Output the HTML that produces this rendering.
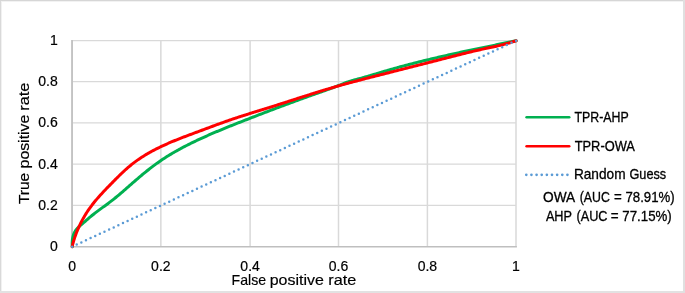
<!DOCTYPE html>
<html><head><meta charset="utf-8"><style>
html,body{margin:0;padding:0;background:#fff;overflow:hidden}
svg{display:block;will-change:transform}
text{font-family:"Liberation Sans",sans-serif;fill:#000;stroke:#000;stroke-width:0.3px}
.ti{stroke-width:0.18px}
.tk{stroke-width:0.2px}
</style></head><body>
<svg width="685" height="293" viewBox="0 0 685 293">
<rect x="0" y="0" width="685" height="293" fill="#fff"/>
<rect x="0" y="0" width="683" height="1" fill="#d6d6d6"/>
<rect x="1" y="1" width="682" height="1" fill="#f2f2f2"/>
<rect x="0" y="1" width="1" height="290" fill="#d9d9d9"/>
<rect x="1" y="2" width="1" height="289" fill="#f1f1f1"/>
<rect x="683" y="0" width="2" height="293" fill="#e0e0e0"/>
<rect x="0" y="291" width="683" height="2" fill="#e2e2e2"/>
<line x1="160.85" y1="40" x2="160.85" y2="246.4" stroke="#d9d9d9" stroke-width="1.5"/><line x1="250.1" y1="40" x2="250.1" y2="246.4" stroke="#d9d9d9" stroke-width="1.5"/><line x1="338.5" y1="40" x2="338.5" y2="246.4" stroke="#d9d9d9" stroke-width="1.5"/><line x1="427.4" y1="40" x2="427.4" y2="246.4" stroke="#d9d9d9" stroke-width="1.5"/><line x1="516.0" y1="40" x2="516.0" y2="246.4" stroke="#d9d9d9" stroke-width="1.5"/><line x1="72.2" y1="40.55" x2="516.0" y2="40.55" stroke="#d9d9d9" stroke-width="1.2"/><line x1="72.2" y1="81.7" x2="516.0" y2="81.7" stroke="#d9d9d9" stroke-width="1.2"/><line x1="72.2" y1="122.85" x2="516.0" y2="122.85" stroke="#d9d9d9" stroke-width="1.2"/><line x1="72.2" y1="164.15" x2="516.0" y2="164.15" stroke="#d9d9d9" stroke-width="1.2"/><line x1="72.2" y1="205.3" x2="516.0" y2="205.3" stroke="#d9d9d9" stroke-width="1.2"/><rect x="71.1" y="40" width="1.9" height="206.5" fill="#c3c3c3"/><line x1="71.1" y1="246.65" x2="516.9" y2="246.65" stroke="#bfbfbf" stroke-width="1.5"/>
<path d="M72.28 246.77 L72.20 245.44 L72.17 244.12 L72.18 242.81 L72.23 241.52 L72.34 240.24 L72.50 238.98 L72.71 237.74 L72.98 236.53 L73.32 235.35 L73.72 234.20 L74.19 233.08 L74.73 232.00 L75.35 230.96 L76.04 229.97 L76.81 229.01 L77.63 228.09 L78.51 227.20 L79.44 226.33 L80.39 225.48 L81.36 224.64 L82.34 223.81 L83.32 222.98 L84.29 222.14 L85.24 221.29 L86.19 220.44 L87.13 219.60 L88.08 218.76 L89.03 217.94 L90.00 217.12 L90.97 216.32 L91.95 215.52 L92.94 214.73 L93.93 213.95 L94.93 213.18 L95.93 212.41 L96.94 211.65 L97.95 210.90 L98.97 210.15 L99.98 209.40 L101.00 208.65 L102.02 207.91 L103.04 207.16 L104.06 206.42 L105.09 205.67 L106.10 204.93 L107.12 204.18 L108.14 203.43 L109.15 202.67 L110.16 201.91 L111.16 201.15 L112.16 200.38 L113.15 199.60 L114.14 198.82 L115.12 198.02 L116.10 197.23 L117.08 196.43 L118.05 195.62 L119.01 194.81 L119.98 194.00 L120.94 193.18 L121.90 192.36 L122.85 191.53 L123.81 190.70 L124.76 189.88 L125.71 189.04 L126.66 188.21 L127.61 187.38 L128.56 186.55 L129.50 185.71 L130.45 184.88 L131.40 184.05 L132.35 183.22 L133.30 182.39 L134.25 181.56 L135.21 180.74 L136.16 179.91 L137.12 179.09 L138.08 178.27 L139.04 177.45 L140.00 176.64 L140.97 175.83 L141.93 175.02 L142.90 174.21 L143.88 173.41 L144.85 172.61 L145.83 171.82 L146.81 171.03 L147.79 170.24 L148.78 169.46 L149.77 168.69 L150.77 167.91 L151.77 167.15 L152.77 166.38 L153.78 165.63 L154.79 164.88 L155.80 164.13 L156.82 163.39 L157.85 162.66 L158.88 161.93 L159.91 161.21 L160.95 160.50 L161.99 159.79 L163.04 159.09 L164.10 158.39 L165.16 157.71 L166.22 157.03 L167.29 156.35 L168.37 155.69 L169.45 155.03 L170.53 154.37 L171.62 153.72 L172.71 153.08 L173.80 152.44 L174.90 151.81 L176.00 151.19 L177.11 150.57 L178.21 149.95 L179.32 149.34 L180.44 148.74 L181.55 148.14 L182.67 147.54 L183.80 146.95 L184.92 146.37 L186.04 145.79 L187.17 145.21 L188.30 144.64 L189.43 144.07 L190.57 143.51 L191.70 142.95 L192.84 142.39 L193.97 141.84 L195.11 141.29 L196.25 140.75 L197.39 140.21 L198.54 139.67 L199.68 139.14 L200.83 138.61 L201.98 138.08 L203.13 137.56 L204.28 137.04 L205.43 136.52 L206.58 136.01 L207.73 135.50 L208.89 134.99 L210.04 134.48 L211.20 133.98 L212.36 133.48 L213.52 132.98 L214.68 132.49 L215.84 131.99 L217.00 131.50 L218.17 131.01 L219.33 130.53 L220.50 130.04 L221.66 129.56 L222.83 129.08 L223.99 128.60 L225.16 128.12 L226.33 127.65 L227.50 127.18 L228.67 126.70 L229.84 126.23 L231.01 125.76 L232.18 125.29 L233.36 124.83 L234.53 124.36 L235.70 123.90 L236.88 123.43 L238.05 122.97 L239.23 122.51 L240.40 122.04 L241.58 121.58 L242.75 121.12 L243.93 120.66 L245.10 120.20 L246.28 119.74 L247.46 119.28 L248.63 118.82 L249.81 118.36 L250.99 117.91 L252.16 117.45 L253.34 116.99 L254.52 116.54 L255.70 116.08 L256.88 115.63 L258.06 115.17 L259.23 114.72 L260.41 114.26 L261.59 113.81 L262.77 113.36 L263.95 112.90 L265.13 112.45 L266.31 112.00 L267.50 111.55 L268.68 111.10 L269.86 110.65 L271.04 110.20 L272.22 109.76 L273.40 109.31 L274.59 108.86 L275.77 108.42 L276.95 107.97 L278.13 107.53 L279.32 107.08 L280.50 106.64 L281.69 106.19 L282.87 105.75 L284.05 105.31 L285.24 104.87 L286.42 104.43 L287.61 103.99 L288.79 103.55 L289.98 103.11 L291.17 102.67 L292.35 102.24 L293.54 101.80 L294.72 101.36 L295.91 100.93 L297.10 100.50 L298.29 100.06 L299.47 99.63 L300.66 99.20 L301.85 98.77 L303.04 98.34 L304.23 97.91 L305.41 97.48 L306.60 97.05 L307.79 96.62 L308.98 96.19 L310.17 95.77 L311.36 95.34 L312.55 94.92 L313.74 94.50 L314.93 94.07 L316.12 93.65 L317.32 93.23 L318.51 92.81 L319.70 92.39 L320.89 91.97 L322.08 91.55 L323.27 91.14 L324.47 90.72 L325.66 90.30 L326.85 89.88 L328.04 89.45 L329.23 89.03 L330.42 88.60 L331.60 88.17 L332.79 87.74 L333.97 87.30 L335.15 86.85 L336.33 86.41 L337.51 85.95 L338.69 85.49 L339.86 85.03 L341.03 84.55 L342.20 84.08 L343.38 83.61 L344.55 83.14 L345.73 82.69 L346.91 82.26 L348.10 81.84 L349.30 81.45 L350.50 81.08 L351.71 80.72 L352.92 80.37 L354.14 80.04 L355.36 79.71 L356.58 79.39 L357.80 79.07 L359.02 78.75 L360.24 78.42 L361.46 78.09 L362.67 77.75 L363.89 77.41 L365.10 77.06 L366.32 76.71 L367.53 76.36 L368.74 76.00 L369.95 75.64 L371.16 75.28 L372.37 74.92 L373.58 74.56 L374.79 74.19 L376.00 73.83 L377.21 73.46 L378.42 73.10 L379.62 72.73 L380.83 72.37 L382.04 72.01 L383.25 71.65 L384.47 71.29 L385.68 70.93 L386.89 70.58 L388.10 70.23 L389.32 69.88 L390.53 69.53 L391.74 69.19 L392.96 68.84 L394.17 68.50 L395.39 68.16 L396.61 67.82 L397.82 67.49 L399.04 67.15 L400.26 66.82 L401.48 66.49 L402.70 66.16 L403.92 65.83 L405.14 65.51 L406.36 65.18 L407.58 64.86 L408.80 64.54 L410.02 64.22 L411.25 63.91 L412.47 63.59 L413.69 63.28 L414.92 62.97 L416.14 62.66 L417.36 62.35 L418.59 62.04 L419.81 61.73 L421.04 61.43 L422.27 61.13 L423.49 60.82 L424.72 60.52 L425.95 60.23 L427.18 59.93 L428.40 59.63 L429.63 59.34 L430.86 59.04 L432.09 58.75 L433.32 58.46 L434.55 58.17 L435.78 57.88 L437.01 57.60 L438.24 57.31 L439.47 57.02 L440.70 56.74 L441.93 56.46 L443.17 56.18 L444.40 55.90 L445.63 55.62 L446.86 55.34 L448.10 55.06 L449.33 54.79 L450.56 54.51 L451.80 54.24 L453.03 53.96 L454.27 53.69 L455.50 53.42 L456.73 53.15 L457.97 52.88 L459.20 52.61 L460.44 52.34 L461.67 52.08 L462.91 51.81 L464.15 51.54 L465.38 51.28 L466.62 51.02 L467.85 50.75 L469.09 50.49 L470.33 50.23 L471.56 49.97 L472.80 49.71 L474.04 49.44 L475.27 49.19 L476.51 48.93 L477.75 48.67 L478.99 48.41 L480.22 48.15 L481.46 47.90 L482.70 47.64 L483.94 47.38 L485.17 47.13 L486.41 46.87 L487.65 46.62 L488.89 46.36 L490.12 46.11 L491.36 45.86 L492.60 45.60 L493.84 45.35 L495.08 45.10 L496.31 44.84 L497.55 44.59 L498.79 44.34 L500.03 44.09 L501.27 43.83 L502.50 43.58 L503.74 43.33 L504.98 43.08 L506.22 42.83 L507.45 42.58 L508.69 42.33 L509.93 42.07 L511.17 41.82 L512.40 41.57 L513.64 41.32 L514.88 41.07 L516.12 40.82" fill="none" stroke="#00b050" stroke-width="3" stroke-linejoin="round" stroke-linecap="round"/>
<path d="M72.12 246.75 L72.42 245.50 L72.74 244.25 L73.08 243.01 L73.42 241.77 L73.79 240.54 L74.17 239.31 L74.56 238.09 L74.96 236.87 L75.38 235.66 L75.82 234.46 L76.27 233.26 L76.73 232.07 L77.20 230.88 L77.69 229.70 L78.20 228.53 L78.71 227.36 L79.24 226.20 L79.78 225.04 L80.34 223.90 L80.91 222.75 L81.49 221.62 L82.08 220.49 L82.69 219.37 L83.31 218.26 L83.94 217.16 L84.58 216.06 L85.24 214.97 L85.90 213.89 L86.58 212.81 L87.27 211.75 L87.98 210.69 L88.69 209.64 L89.41 208.60 L90.15 207.57 L90.90 206.54 L91.66 205.53 L92.43 204.52 L93.21 203.52 L94.00 202.53 L94.79 201.55 L95.60 200.57 L96.42 199.60 L97.24 198.63 L98.08 197.68 L98.92 196.72 L99.76 195.78 L100.62 194.83 L101.47 193.89 L102.34 192.96 L103.21 192.03 L104.08 191.10 L104.96 190.18 L105.85 189.25 L106.73 188.33 L107.62 187.41 L108.52 186.49 L109.41 185.58 L110.31 184.66 L111.21 183.74 L112.11 182.83 L113.01 181.91 L113.91 180.99 L114.81 180.08 L115.72 179.16 L116.63 178.25 L117.54 177.35 L118.45 176.44 L119.37 175.54 L120.29 174.64 L121.21 173.75 L122.14 172.87 L123.08 171.99 L124.01 171.11 L124.96 170.25 L125.91 169.39 L126.86 168.54 L127.83 167.70 L128.79 166.87 L129.77 166.05 L130.75 165.24 L131.74 164.44 L132.74 163.66 L133.74 162.88 L134.76 162.12 L135.77 161.37 L136.80 160.63 L137.84 159.89 L138.88 159.17 L139.92 158.46 L140.98 157.76 L142.04 157.07 L143.10 156.39 L144.18 155.72 L145.26 155.06 L146.34 154.41 L147.43 153.77 L148.53 153.13 L149.63 152.51 L150.74 151.89 L151.85 151.28 L152.96 150.68 L154.09 150.09 L155.21 149.50 L156.34 148.92 L157.48 148.35 L158.62 147.79 L159.76 147.23 L160.91 146.68 L162.06 146.13 L163.22 145.60 L164.38 145.06 L165.54 144.54 L166.71 144.02 L167.87 143.50 L169.05 142.99 L170.22 142.49 L171.40 141.99 L172.58 141.49 L173.76 141.00 L174.95 140.51 L176.13 140.03 L177.32 139.55 L178.51 139.07 L179.70 138.60 L180.90 138.13 L182.09 137.67 L183.29 137.20 L184.49 136.74 L185.69 136.29 L186.89 135.83 L188.09 135.38 L189.29 134.93 L190.49 134.48 L191.69 134.03 L192.89 133.58 L194.10 133.13 L195.30 132.69 L196.50 132.24 L197.70 131.80 L198.90 131.36 L200.10 130.91 L201.30 130.47 L202.50 130.02 L203.69 129.58 L204.89 129.14 L206.08 128.69 L207.28 128.25 L208.47 127.80 L209.66 127.36 L210.86 126.91 L212.05 126.47 L213.24 126.03 L214.43 125.59 L215.63 125.15 L216.82 124.71 L218.01 124.27 L219.20 123.83 L220.40 123.40 L221.59 122.97 L222.79 122.54 L223.98 122.11 L225.18 121.68 L226.37 121.26 L227.57 120.83 L228.77 120.42 L229.97 120.00 L231.18 119.59 L232.38 119.18 L233.58 118.77 L234.79 118.36 L236.00 117.96 L237.21 117.56 L238.42 117.17 L239.63 116.77 L240.85 116.38 L242.06 115.99 L243.27 115.60 L244.49 115.21 L245.71 114.83 L246.92 114.45 L248.14 114.06 L249.36 113.68 L250.58 113.30 L251.80 112.92 L253.02 112.54 L254.24 112.17 L255.46 111.79 L256.68 111.41 L257.90 111.04 L259.13 110.66 L260.35 110.28 L261.57 109.90 L262.79 109.53 L264.01 109.15 L265.23 108.77 L266.45 108.39 L267.67 108.01 L268.89 107.63 L270.10 107.24 L271.32 106.86 L272.54 106.47 L273.76 106.09 L274.97 105.70 L276.19 105.32 L277.41 104.93 L278.62 104.54 L279.84 104.15 L281.05 103.76 L282.27 103.37 L283.48 102.98 L284.70 102.59 L285.91 102.20 L287.12 101.81 L288.34 101.42 L289.55 101.03 L290.77 100.64 L291.98 100.25 L293.19 99.86 L294.41 99.47 L295.62 99.08 L296.83 98.69 L298.05 98.30 L299.26 97.91 L300.47 97.52 L301.69 97.13 L302.90 96.75 L304.12 96.36 L305.33 95.97 L306.54 95.59 L307.76 95.20 L308.97 94.82 L310.19 94.43 L311.41 94.05 L312.62 93.67 L313.84 93.29 L315.05 92.91 L316.27 92.53 L317.49 92.15 L318.71 91.78 L319.92 91.40 L321.14 91.03 L322.36 90.66 L323.58 90.28 L324.80 89.92 L326.02 89.55 L327.24 89.18 L328.46 88.82 L329.69 88.46 L330.91 88.09 L332.13 87.74 L333.36 87.38 L334.58 87.02 L335.81 86.67 L337.03 86.32 L338.26 85.97 L339.49 85.62 L340.72 85.28 L341.95 84.93 L343.17 84.59 L344.40 84.25 L345.64 83.91 L346.87 83.57 L348.10 83.24 L349.33 82.90 L350.56 82.57 L351.80 82.24 L353.03 81.91 L354.26 81.58 L355.50 81.25 L356.73 80.93 L357.97 80.60 L359.20 80.28 L360.44 79.95 L361.67 79.63 L362.91 79.31 L364.15 78.99 L365.38 78.67 L366.62 78.35 L367.86 78.03 L369.09 77.71 L370.33 77.40 L371.57 77.08 L372.80 76.77 L374.04 76.45 L375.28 76.13 L376.51 75.82 L377.75 75.50 L378.99 75.19 L380.22 74.88 L381.46 74.56 L382.70 74.25 L383.93 73.93 L385.17 73.62 L386.41 73.31 L387.64 72.99 L388.88 72.68 L390.11 72.37 L391.35 72.05 L392.59 71.74 L393.82 71.42 L395.06 71.11 L396.29 70.80 L397.53 70.48 L398.76 70.17 L400.00 69.86 L401.23 69.54 L402.47 69.23 L403.70 68.92 L404.93 68.60 L406.17 68.29 L407.40 67.97 L408.64 67.66 L409.87 67.35 L411.10 67.03 L412.34 66.72 L413.57 66.41 L414.81 66.09 L416.04 65.78 L417.27 65.46 L418.51 65.15 L419.74 64.84 L420.97 64.52 L422.21 64.21 L423.44 63.89 L424.67 63.58 L425.91 63.26 L427.14 62.95 L428.37 62.64 L429.61 62.32 L430.84 62.01 L432.07 61.69 L433.30 61.38 L434.54 61.06 L435.77 60.75 L437.00 60.43 L438.23 60.12 L439.47 59.80 L440.70 59.48 L441.93 59.17 L443.17 58.85 L444.40 58.54 L445.63 58.22 L446.86 57.90 L448.10 57.59 L449.33 57.27 L450.56 56.96 L451.79 56.64 L453.03 56.32 L454.26 56.01 L455.49 55.69 L456.73 55.38 L457.96 55.07 L459.19 54.75 L460.43 54.44 L461.66 54.13 L462.90 53.82 L464.13 53.51 L465.37 53.21 L466.61 52.90 L467.84 52.60 L469.08 52.30 L470.32 52.00 L471.56 51.70 L472.80 51.41 L474.04 51.11 L475.28 50.82 L476.52 50.53 L477.76 50.25 L479.01 49.97 L480.25 49.69 L481.50 49.41 L482.74 49.13 L483.99 48.86 L485.24 48.59 L486.49 48.33 L487.74 48.06 L488.98 47.79 L490.23 47.53 L491.48 47.26 L492.73 46.99 L493.98 46.72 L495.22 46.44 L496.47 46.17 L497.71 45.88 L498.96 45.60 L500.20 45.30 L501.44 45.01 L502.67 44.70 L503.91 44.39 L505.14 44.07 L506.37 43.74 L507.60 43.40 L508.83 43.05 L510.05 42.69 L511.27 42.32 L512.48 41.94 L513.69 41.55 L514.90 41.14 L516.10 40.72" fill="none" stroke="#ff0000" stroke-width="3" stroke-linejoin="round" stroke-linecap="round"/>
<line x1="72.1" y1="246.7" x2="516.1" y2="40.7" stroke="#5b9bd5" stroke-width="2.5" stroke-linecap="round" stroke-dasharray="0 5.0985"/>
<line x1="526.6" y1="117.3" x2="569.2" y2="117.3" stroke="#00b050" stroke-width="2.6" stroke-linecap="round"/>
<line x1="526.6" y1="146.2" x2="569.2" y2="146.2" stroke="#ff0000" stroke-width="2.6" stroke-linecap="round"/>
<line x1="526.3" y1="174.8" x2="567.6" y2="174.8" stroke="#5b9bd5" stroke-width="2.7" stroke-linecap="round" stroke-dasharray="0 5.14"/>

<text x="57.7" y="44.8" text-anchor="end" font-size="14" class="tk">1</text><text x="57.7" y="86.2" text-anchor="end" font-size="14" class="tk">0.8</text><text x="57.7" y="127.4" text-anchor="end" font-size="14" class="tk">0.6</text><text x="57.7" y="168.6" text-anchor="end" font-size="14" class="tk">0.4</text><text x="57.7" y="209.8" text-anchor="end" font-size="14" class="tk">0.2</text><text x="57.7" y="250.9" text-anchor="end" font-size="14" class="tk">0</text>
<text x="72.2" y="271" text-anchor="middle" font-size="14" class="tk">0</text><text x="160.85" y="271" text-anchor="middle" font-size="14" class="tk">0.2</text><text x="250.1" y="271" text-anchor="middle" font-size="14" class="tk">0.4</text><text x="338.5" y="271" text-anchor="middle" font-size="14" class="tk">0.6</text><text x="427.4" y="271" text-anchor="middle" font-size="14" class="tk">0.8</text><text x="516.0" y="271" text-anchor="middle" font-size="14" class="tk">1</text>
<text class="ti" x="231.59" y="284.70" font-size="15.0" textLength="34.54" lengthAdjust="spacingAndGlyphs">False</text><text class="ti" x="269.73" y="284.70" font-size="15.0" textLength="54.07" lengthAdjust="spacingAndGlyphs">positive</text><text class="ti" x="328.24" y="284.70" font-size="15.0" textLength="27.95" lengthAdjust="spacingAndGlyphs">rate</text><text class="ti" transform="translate(28.90,204.08) rotate(-90)" font-size="15.5" textLength="31.28" lengthAdjust="spacingAndGlyphs">True</text><text class="ti" transform="translate(28.90,168.42) rotate(-90)" font-size="15.5" textLength="53.71" lengthAdjust="spacingAndGlyphs">positive</text><text class="ti" transform="translate(28.90,110.81) rotate(-90)" font-size="15.5" textLength="28.19" lengthAdjust="spacingAndGlyphs">rate</text><text x="574.42" y="121.90" font-size="14.2" textLength="54.26" lengthAdjust="spacingAndGlyphs">TPR-AHP</text><text x="574.70" y="150.60" font-size="14.2" textLength="60.25" lengthAdjust="spacingAndGlyphs">TPR-OWA</text><text x="573.90" y="179.00" font-size="14.2" textLength="51.66" lengthAdjust="spacingAndGlyphs">Random</text><text x="629.47" y="179.00" font-size="14.2" textLength="36.76" lengthAdjust="spacingAndGlyphs">Guess</text><text x="543.00" y="201.90" font-size="14.2" textLength="32.16" lengthAdjust="spacingAndGlyphs">OWA</text><text x="579.68" y="201.90" font-size="14.2" textLength="30.15" lengthAdjust="spacingAndGlyphs">(AUC</text><text x="613.97" y="201.90" font-size="14.2" textLength="7.78" lengthAdjust="spacingAndGlyphs">=</text><text x="625.50" y="201.90" font-size="14.2" textLength="49.17" lengthAdjust="spacingAndGlyphs">78.91%)</text><text x="545.91" y="220.70" font-size="14.2" textLength="26.09" lengthAdjust="spacingAndGlyphs">AHP</text><text x="576.48" y="220.70" font-size="14.2" textLength="31.07" lengthAdjust="spacingAndGlyphs">(AUC</text><text x="610.63" y="220.70" font-size="14.2" textLength="7.86" lengthAdjust="spacingAndGlyphs">=</text><text x="622.37" y="220.70" font-size="14.2" textLength="49.41" lengthAdjust="spacingAndGlyphs">77.15%)</text>
</svg>
</body></html>
